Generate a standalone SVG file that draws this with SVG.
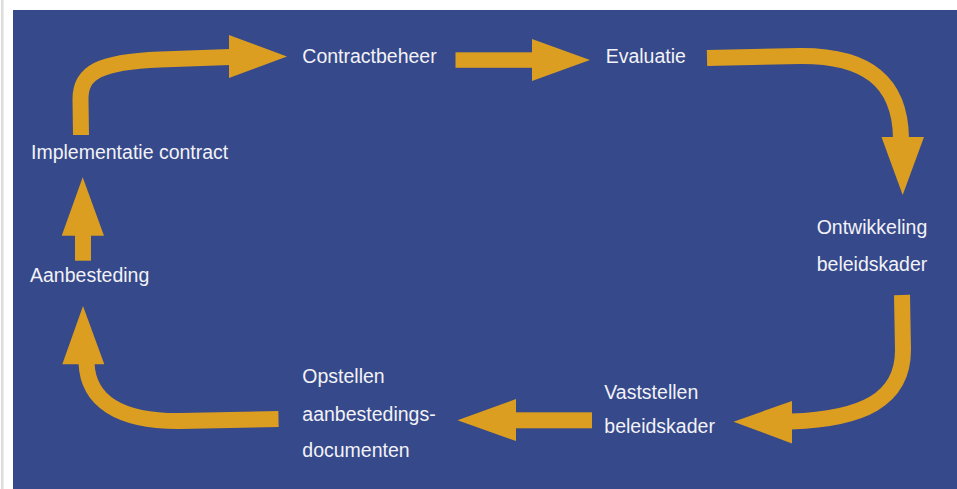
<svg xmlns="http://www.w3.org/2000/svg" width="957" height="489" viewBox="0 0 957 489">
  <style>
    .bg { fill: #36498a; }
    .shaft { fill: none; stroke: #db9e20; stroke-width: 16; stroke-linecap: butt; stroke-linejoin: round; }
    .head { fill: #db9e20; }
    .label { font-family: "Liberation Sans", Arial, sans-serif; font-size: 19.5px; fill: #f2f2f7; }
  </style>
  <rect x="0" y="0" width="957" height="489" fill="#ffffff"/>
  <rect x="1" y="0" width="2.5" height="489" fill="#dddddd"/>
  <rect class="bg" x="13" y="10" width="944" height="479"/>

  <!-- cycle connectors -->
  <g id="connectors">
    <!-- Implementatie contract to Contractbeheer -->
    <path class="shaft" d="M 81 135 L 80.5 100 C 80 72, 100 62, 160 59.5 L 230 57"/>
    <polygon class="head" points="229,35 287,56.5 229,78"/>
    <!-- Contractbeheer to Evaluatie -->
    <rect class="head" x="455.5" y="52.3" width="77" height="15.5"/>
    <polygon class="head" points="532,39 590,60 532,81"/>
    <!-- Evaluatie to Ontwikkeling beleidskader -->
    <path class="shaft" d="M 707 58 L 800 56 C 865 55.5, 900 80, 901 138"/>
    <polygon class="head" points="881.5,137 924,137 902.7,195"/>
    <!-- Ontwikkeling beleidskader to Vaststellen beleidskader -->
    <path class="shaft" d="M 902 295 L 903 350 C 903 400, 862 419, 791 421.5"/>
    <polygon class="head" points="792,401 792,443.5 733.5,421.7"/>
    <!-- Vaststellen beleidskader to Opstellen aanbestedingsdocumenten -->
    <rect class="head" x="515" y="412.3" width="77" height="16"/>
    <polygon class="head" points="516,399 516,441 457.5,420.3"/>
    <!-- Opstellen aanbestedingsdocumenten to Aanbesteding -->
    <path class="shaft" d="M 278.5 419 L 180 421 C 118 421.5, 88 400, 86.5 363"/>
    <polygon class="head" points="62.3,364.3 104.3,364.3 83,306"/>
    <!-- Aanbesteding to Implementatie contract -->
    <rect class="head" x="75" y="234" width="16" height="26.7"/>
    <polygon class="head" points="61.7,235.7 104,235.7 82.7,177.3"/>
  </g>

  <g id="implementatie-contract">
    <text class="label" x="31" y="159.3">Implementatie contract</text>
  </g>
  <g id="contractbeheer">
    <text class="label" x="302.3" y="63.3">Contractbeheer</text>
  </g>
  <g id="evaluatie">
    <text class="label" x="605.7" y="63.3">Evaluatie</text>
  </g>
  <g id="ontwikkeling-beleidskader">
    <text class="label" x="816.7" y="234.3">Ontwikkeling</text>
    <text class="label" x="816.7" y="271">beleidskader</text>
  </g>
  <g id="vaststellen-beleidskader">
    <text class="label" x="604.3" y="399.3">Vaststellen</text>
    <text class="label" x="604.3" y="433.3">beleidskader</text>
  </g>
  <g id="opstellen-aanbestedingsdocumenten">
    <text class="label" x="302.3" y="382.7">Opstellen</text>
    <text class="label" x="302.3" y="420.7">aanbestedings-</text>
    <text class="label" x="302.3" y="457.3">documenten</text>
  </g>
  <g id="aanbesteding">
    <text class="label" x="30" y="281.7">Aanbesteding</text>
  </g>
</svg>
